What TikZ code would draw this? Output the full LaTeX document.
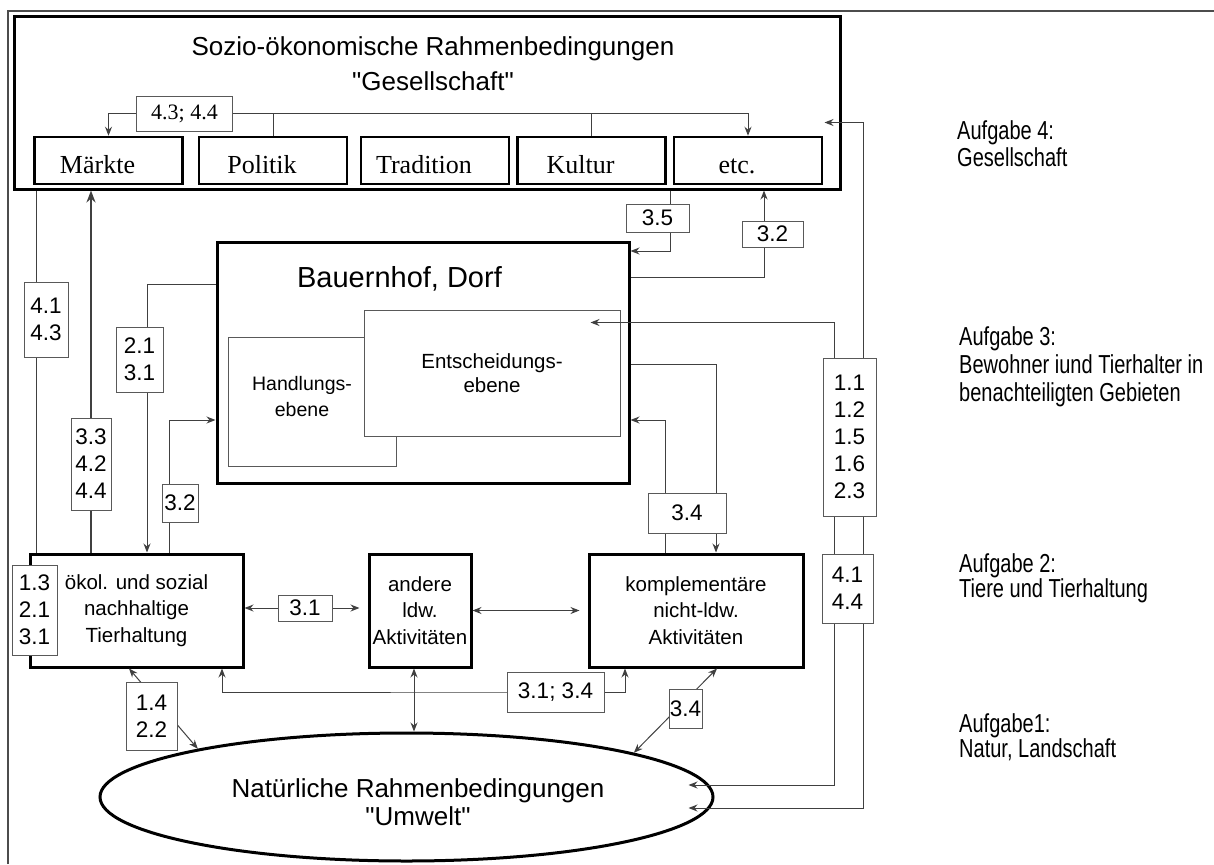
\documentclass[tikz,border=0pt]{standalone}
\usepackage{fontspec}
\setmainfont{Liberation Sans}[Ligatures=TeXOff]
\newfontfamily\timesfont{Liberation Serif}
\newfontfamily\narrowfont[FakeStretch=0.77]{Liberation Sans}
\usetikzlibrary{shapes.geometric}
\usetikzlibrary{arrows.meta}
\pgfdeclarelayer{labels}
\pgfsetlayers{main,labels}

\begin{document}
\begin{tikzpicture}[x=1pt,y=-1pt,inner sep=0pt,
    >={Stealth[length=9pt,width=7pt]},
    bigbox/.style={draw,line width=3pt},
    rowbox/.style={draw,line width=2.5pt,minimum width=148pt,minimum height=47pt,%
      text height=25pt,text depth=0pt,font=\timesfont\fontsize{26}{30}\selectfont,%
      execute at end node={\hspace*{22pt}}},
    actbox/.style={draw,line width=3pt,minimum height=113pt,align=center,%
      font=\fontsize{20.5}{26.5}\selectfont},
    ebenebox/.style={draw=black!65,line width=1pt},
    numbox/.style={draw=black!65,line width=1pt,fill=white,align=center,%
      font=\fontsize{22.5}{27}\selectfont},
    conn/.style={draw=black!75,line width=1pt},
    aufgabe/.style={anchor=north west,align=left,%
      font=\narrowfont\fontsize{26}{27}\selectfont}]

      % Bildgroesse wie Vorlage
      \useasboundingbox (0,0) rectangle (1214,864);
      \draw[black!70,line width=1.5pt] (8,864) -- (8,11) -- (1214,11);

      % Gesellschaft
      \node[bigbox,minimum width=826pt,minimum height=172pt] (gesell) at (427,103) {};
      \node[align=center,font=\fontsize{26}{35}\selectfont] (gesell text) at (433,63.4){%
        Sozio-ökonomische Rahmenbedingungen\\"Gesellschaft"};
      \node[rowbox] (maerkte) at (108.5,160.5) {Märkte};
      \node[rowbox] (politik) at (273,160.5) {Politik};
      \node[rowbox] (tradition) at (435,160.5) {Tradition};
      \node[rowbox] (kultur) at (591.5,160.5) {Kultur};
      \node[rowbox] (etc) at (748,160.5) {etc.};

      % Bauernhof, Dorf
      \node[bigbox,minimum width=412pt,minimum height=241pt] (hof) at (423,362.5) {};
      \node[anchor=base,font=\fontsize{29}{32}\selectfont] (hof text) at (399.5,287) {%
        Bauernhof, Dorf};
      \node[ebenebox,minimum width=168pt,minimum height=129pt] (handlung) at (312,401.5) {};
      \node[align=center,font=\fontsize{19.5}{26}\selectfont] (handlung text) at (302,397) {%
        Handlungs-\\ebene};
      \node[ebenebox,fill=white,minimum width=256pt,minimum height=126pt,%
        align=center,font=\fontsize{20.5}{24}\selectfont] (entscheidung) at (492,373) {%
        Entscheidungs-\\ebene};

      % Aktivitaeten
      \node[actbox,minimum width=213pt] (tierhaltung) at (136.5,610.5) {%
        ökol. und sozial\\nachhaltige\\Tierhaltung};
      \node[actbox,minimum width=102pt] (andere) at (420,610.5) {%
        andere\\ldw.\\Aktivitäten};
      \node[actbox,minimum width=214pt] (nichtldw) at (696,610.5) {%
        komplementäre\\nicht-ldw.\\Aktivitäten};

      % Umwelt
      \node[ellipse,draw,line width=3pt,minimum width=613pt,minimum height=128pt] (umwelt)
        at (406.5,797) {};
      \node[align=center,font=\fontsize{26}{28}\selectfont] (umwelt text) at (418,802.6) {%
        Natürliche Rahmenbedingungen\\"Umwelt"};

      % Aufgaben
      \node[aufgabe] (aufgabe4) at (957,120) {Aufgabe 4:\\Gesellschaft};
      \node[aufgabe] (aufgabe3) at (959,326) {%
        Aufgabe 3:\\[1pt]Bewohner iund Tierhalter in\\[1pt]benachteiligten Gebieten};
      \node[aufgabe] (aufgabe2) at (959,553) {Aufgabe 2:\\[-2pt]Tiere und Tierhaltung};
      \node[aufgabe] (aufgabe1) at (959,713) {Aufgabe1:\\[-2pt]Natur, Landschaft};

      % Nummern
      \begin{pgfonlayer}{labels}
        \node[numbox,font=\timesfont\fontsize{22}{26}\selectfont,%
          minimum width=96pt,minimum height=34pt] (l4344) at (184.5,114) {4.3; 4.4};
        \node[numbox,minimum width=44pt,minimum height=75pt] (l4143) at (46,319.5) {4.1\\4.3};
        \node[numbox,minimum width=47pt,minimum height=65pt] (l2131) at (139.5,359.5) {2.1\\3.1};
        \node[numbox,minimum width=40pt,minimum height=92pt] (l334244) at (91,464) {%
          3.3\\4.2\\4.4};
        \node[numbox,minimum width=36pt,minimum height=38pt] (l32hof) at (180,503) {3.2};
        \node[numbox,minimum width=45pt,minimum height=90pt] (l1321) at (34.5,610) {%
          1.3\\2.1\\3.1};
        \node[numbox,minimum width=54pt,minimum height=26pt] (l31) at (305,608) {3.1};
        \node[numbox,minimum width=51pt,minimum height=68pt] (l1422) at (151.5,716) {1.4\\2.2};
        \node[numbox,minimum width=97pt,minimum height=40pt] (l3134) at (555.5,692) {3.1; 3.4};
        \node[numbox,minimum width=33pt,minimum height=39pt] (l34unten) at (685.5,708.5) {3.4};
        \node[numbox,minimum width=78pt,minimum height=40pt] (l34oben) at (687,513) {3.4};
        \node[numbox,minimum width=63pt,minimum height=28pt] (l35) at (657.5,218) {3.5};
        \node[numbox,minimum width=61pt,minimum height=26pt] (l32etc) at (772.5,234) {3.2};
        \node[numbox,minimum width=53pt,minimum height=158pt] (l11) at (849.5,437) {%
          1.1\\1.2\\1.5\\1.6\\2.3};
        \node[numbox,minimum width=51pt,minimum height=69pt] (l4144) at (847.5,588.5) {4.1\\4.4};
      \end{pgfonlayer}

      % Verbindungen in der Gesellschaft
      \draw[conn,->] (l4344.west) -| (maerkte.north);
      \draw[conn,->] (l4344.east) -| (etc.north);
      \draw[conn] (politik.north) -- (politik.north |- l4344.east);
      \draw[conn] (kultur.north) -- (kultur.north |- l4344.east);

      % links
      \draw[conn] ([xshift=7.5pt]tierhaltung.north west)
        -- ([xshift=7.5pt]tierhaltung.north west |- gesell.south);
      \draw[conn,line width=2.5pt,-{Stealth[length=12pt,width=9pt]}]
        (l334244.north |- tierhaltung.north) -- (l334244.north |- gesell.south);
      \draw[conn,->] ([yshift=-43.5pt]hof.north west) -| ([xshift=10.5pt]tierhaltung.north);
      \draw[conn,->] ([xshift=32.5pt]tierhaltung.north) |- ([yshift=-179.5pt]hof.north west);

      % Mitte
      \draw[conn,<->,shorten >=8pt] (tierhaltung.east |- l31) -- (andere.west |- l31);
      \draw[conn,<->,shorten >=8pt] (andere.east) -- (nichtldw.west |- andere.east);
      \draw[conn,<->] ([xshift=-6pt]andere.south) -- ([xshift=-6pt]andere.south |- umwelt.north);
      \draw[conn,<->] ([xshift=85.5pt]tierhaltung.south) |- (l3134.center)
        -| ([xshift=-71pt]nichtldw.south);
      \draw[conn,<->] ([xshift=-7.5pt]tierhaltung.south) -- (umwelt.167);
      \draw[conn,<->] ([xshift=21pt]nichtldw.south) -- (umwelt.11);

      % rechts
      \draw[conn,->] ([xshift=12.5pt]l35.north |- gesell.south) |- ([yshift=-10.5pt]hof.north east);
      \draw[conn,->] ([yshift=-36.5pt]hof.north east) -| ([xshift=-8.5pt]l32etc.north |- gesell.south);
      \draw[conn,->] ([yshift=-123.5pt]hof.north east) -| ([xshift=20pt]nichtldw.north);
      \draw[conn,->] ([xshift=-31pt]nichtldw.north) |- ([yshift=-179.5pt]hof.north east);
      \draw[conn,<->] ([xshift=-26pt,yshift=12pt]umwelt.east) -| ([xshift=-15.5pt]l11.south)
        |- ([xshift=-30pt,yshift=-13pt]entscheidung.north east);
      \draw[conn,<->] ([xshift=-26pt,yshift=-11pt]umwelt.east) -| ([xshift=13.5pt]l11.south)
        |- ([xshift=-17pt,yshift=-107pt]gesell.north east);
    \end{tikzpicture}
\end{document}
